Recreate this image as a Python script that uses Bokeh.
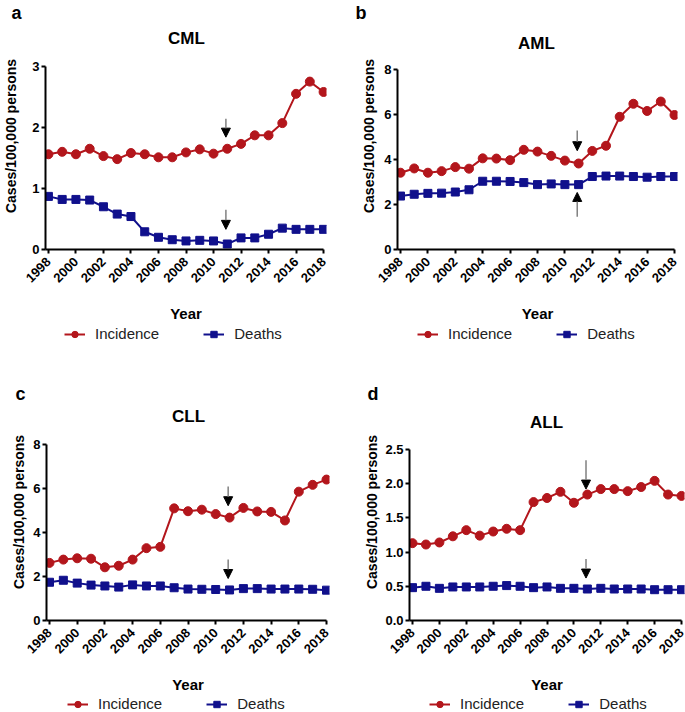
import math
from bokeh.plotting import figure
from bokeh.layouts import column, row
from bokeh.models import (Range1d, FixedTicker, NumeralTickFormatter, Label, Title,
                          Legend, LegendItem, Arrow, NormalHead)
from bokeh.embed import file_html
from bokeh.resources import INLINE

years = list(range(1998, 2019))
year_ticks = [1998, 2000, 2002, 2004, 2006, 2008, 2010, 2012, 2014, 2016, 2018]

cml_incidence = [1.56, 1.60, 1.56, 1.65, 1.53, 1.48, 1.58, 1.56, 1.51, 1.51, 1.59,
                 1.64, 1.57, 1.65, 1.73, 1.87, 1.87, 2.07, 2.55, 2.75, 2.58]
cml_deaths = [0.87, 0.82, 0.82, 0.81, 0.70, 0.58, 0.54, 0.29, 0.20, 0.16, 0.14,
              0.15, 0.14, 0.09, 0.19, 0.19, 0.25, 0.35, 0.33, 0.33, 0.33]

aml_incidence = [3.42, 3.61, 3.42, 3.49, 3.67, 3.60, 4.06, 4.05, 3.98, 4.44, 4.36,
                 4.17, 3.96, 3.83, 4.39, 4.62, 5.91, 6.49, 6.17, 6.59, 5.99]
aml_deaths = [2.38, 2.46, 2.50, 2.51, 2.56, 2.66, 3.04, 3.04, 3.03, 2.98, 2.89,
              2.92, 2.89, 2.89, 3.25, 3.27, 3.27, 3.25, 3.22, 3.25, 3.25]

cll_incidence = [2.62, 2.77, 2.83, 2.81, 2.42, 2.49, 2.77, 3.29, 3.35, 5.10, 4.97,
                 5.04, 4.84, 4.68, 5.12, 4.96, 4.94, 4.55, 5.86, 6.17, 6.41]
cll_deaths = [1.74, 1.83, 1.70, 1.61, 1.57, 1.52, 1.62, 1.57, 1.57, 1.49, 1.43,
              1.42, 1.41, 1.39, 1.45, 1.45, 1.43, 1.43, 1.43, 1.42, 1.38]

all_incidence = [1.13, 1.11, 1.14, 1.23, 1.32, 1.24, 1.30, 1.34, 1.32, 1.73, 1.79,
                 1.88, 1.72, 1.84, 1.92, 1.92, 1.89, 1.95, 2.04, 1.84, 1.82]
all_deaths = [0.48, 0.50, 0.47, 0.49, 0.49, 0.49, 0.50, 0.51, 0.50, 0.48, 0.49,
              0.47, 0.47, 0.46, 0.47, 0.46, 0.46, 0.46, 0.45, 0.45, 0.45]

panel_letters = ["a", "b", "c", "d"]
panel_titles = ["CML", "AML", "CLL", "ALL"]
legend_labels = ["Incidence", "Deaths"]
y_max = [3, 8, 8, 2.5]
y_ticks = [[0, 1, 2, 3], [0, 2, 4, 6, 8], [0, 2, 4, 6, 8],
           [0.0, 0.5, 1.0, 1.5, 2.0, 2.5]]
# arrows: (year, y_start, y_end)
arrows = [
    [(2010.9, 2.14, 1.84), (2010.9, 0.65, 0.33)],
    [(2010.9, 5.30, 4.40), (2010.9, 1.46, 2.54)],
    [(2010.9, 6.09, 5.22), (2010.9, 2.78, 1.91)],
    [(2010.9, 2.34, 1.92), (2010.9, 0.90, 0.62)],
]

RED = "#B3161C"
BLUE = "#10108C"
FONT = "Liberation Sans"
PAD = 3

# figure x0, y0, w, h ; pixel of 1998, pixel of 2018, top (ymax), bottom (0)
geoms = [
    (0, 0, 340, 325, 40, 323, 67, 255),
    (340, 0, 345, 325, 400, 674, 70, 252),
    (0, 355, 340, 341, 49, 326, 446, 630),
    (340, 355, 345, 341, 412, 681, 451, 630),
]
top_band = [22, 22, 48, 48]
legend_h = [30, 30, 16, 16]
legend_pos = [(56, 13), (417, 13), (67, 0), (429, 0)]
letter_x = [3, 355, 15, 367]
title_pos = [(182, 38), (536, 43), (188, 417), (546, 423)]
ylabel_standoff = [10, 4, 3, 2]


def make_panel(i, inc, dth):
    fx0, fy0, w, h, X0, X1, T, B = geoms[i]
    L = X0 - PAD
    R = min(X1 + PAD, fx0 + w)
    ppy = (X1 - X0) / 20.0
    xs = 1998 - (X0 - L) / ppy
    xe = 2018 + (R - X1) / ppy
    ym = y_max[i]
    ftop = fy0 + top_band[i]
    ytop = ym * (B - ftop) / (B - T)
    p = figure(width=w, height=h, output_backend="svg", toolbar_location=None,
               x_range=Range1d(xs, xe), y_range=Range1d(0, ytop),
               min_border_left=L - fx0, min_border_right=fx0 + w - R,
               min_border_top=top_band[i], min_border_bottom=fy0 + h - B)
    p.outline_line_color = None
    p.xgrid.visible = False
    p.ygrid.visible = False
    p.background_fill_color = "white"
    p.border_fill_color = "white"

    def to_data(px, py):
        return (xs + (px - L) / (R - L) * (xe - xs), ytop * (B - py) / (B - ftop))

    p.line(years, inc, line_color=RED, line_width=2)
    p.scatter(years, inc, marker="circle", size=9, fill_color=RED, line_color=RED)
    p.line(years, dth, line_color=BLUE, line_width=2)
    p.scatter(years, dth, marker="square", size=8, fill_color=BLUE, line_color=BLUE)

    for ax in (p.xaxis[0], p.yaxis[0]):
        ax.axis_line_width = 2
        ax.major_tick_line_width = 2
        ax.major_tick_out = 4
        ax.major_tick_in = 0
        ax.minor_tick_out = 0
        ax.minor_tick_in = 0
        ax.major_label_text_font = FONT
        ax.major_label_text_font_style = "bold"
        ax.major_label_text_font_size = "13px"
        ax.major_label_text_color = "black"
        ax.axis_label_text_font = FONT
        ax.axis_label_text_font_style = "bold"
        ax.axis_label_text_font_size = "15px"
        ax.axis_label_text_color = "black"
        ax.major_label_standoff = 2

    p.xaxis.ticker = FixedTicker(ticks=year_ticks)
    p.xaxis.bounds = (xs, 2018)
    p.xaxis.major_label_orientation = math.pi / 4
    p.xaxis.major_label_standoff = 6
    p.xaxis.axis_label = "Year"
    p.xaxis.axis_label_standoff = 16
    p.yaxis.ticker = FixedTicker(ticks=y_ticks[i])
    p.yaxis.bounds = (0, ym)
    p.yaxis.formatter = NumeralTickFormatter(format="0.0" if i == 3 else "0")
    p.yaxis.axis_label = "Cases/100,000 persons"
    p.yaxis.axis_label_text_font_size = "14px"
    p.yaxis.axis_label_standoff = ylabel_standoff[i]

    # panel letter in the band above the plot area
    p.add_layout(Title(text=panel_letters[i], align="left", offset=letter_x[i] - L,
                       standoff=0, text_font=FONT, text_font_style="bold",
                       text_font_size="18px", text_color="black"), "above")
    tx_, ty_ = to_data(*title_pos[i])
    p.add_layout(Label(x=tx_, y=ty_, text=panel_titles[i], text_font=FONT,
                       text_font_style="bold", text_font_size="17px",
                       text_align="center", text_baseline="middle",
                       text_color="black"))

    for (ax_, y0, y1) in arrows[i]:
        p.add_layout(Arrow(x_start=ax_, y_start=y0, x_end=ax_, y_end=y1,
                           line_color="#808080", line_width=1.5,
                           end=NormalHead(size=9, fill_color="black",
                                          line_color="black", line_width=1)))

    # legend strip below the chart (series drawn off-range, only the key shows)
    lh = legend_h[i]
    lf = figure(width=w, height=lh, output_backend="svg", toolbar_location=None,
                x_range=Range1d(0, 1), y_range=Range1d(0, 1),
                x_axis_location=None, y_axis_location=None,
                min_border_left=0, min_border_right=0, min_border_top=0,
                min_border_bottom=0)
    lf.outline_line_color = None
    lf.grid.visible = False
    lf.background_fill_color = "white"
    lf.border_fill_color = "white"
    kl1 = lf.line(years, inc, line_color=RED, line_width=2)
    ks1 = lf.scatter(years, inc, marker="circle", size=9, fill_color=RED, line_color=RED)
    kl2 = lf.line(years, dth, line_color=BLUE, line_width=2)
    ks2 = lf.scatter(years, dth, marker="square", size=8, fill_color=BLUE, line_color=BLUE)
    gx, gy = legend_pos[i]
    legend = Legend(items=[LegendItem(label=legend_labels[0], renderers=[kl1, ks1]),
                           LegendItem(label=legend_labels[1], renderers=[kl2, ks2])],
                    orientation="horizontal", location=(gx - L, gy),
                    label_text_font=FONT, label_text_font_size="15px",
                    label_text_color="#222222", glyph_width=21, glyph_height=16,
                    label_height=16, label_standoff=10, spacing=44, padding=0,
                    margin=0, border_line_color=None, background_fill_alpha=0)
    lf.add_layout(legend)
    return column(p, lf, spacing=0)


pa = make_panel(0, cml_incidence, cml_deaths)
pb = make_panel(1, aml_incidence, aml_deaths)
pc = make_panel(2, cll_incidence, cll_deaths)
pd_ = make_panel(3, all_incidence, all_deaths)

layout = column(row(pa, pb), row(pc, pd_))
open("out.html", "w").write(file_html(layout, INLINE))
